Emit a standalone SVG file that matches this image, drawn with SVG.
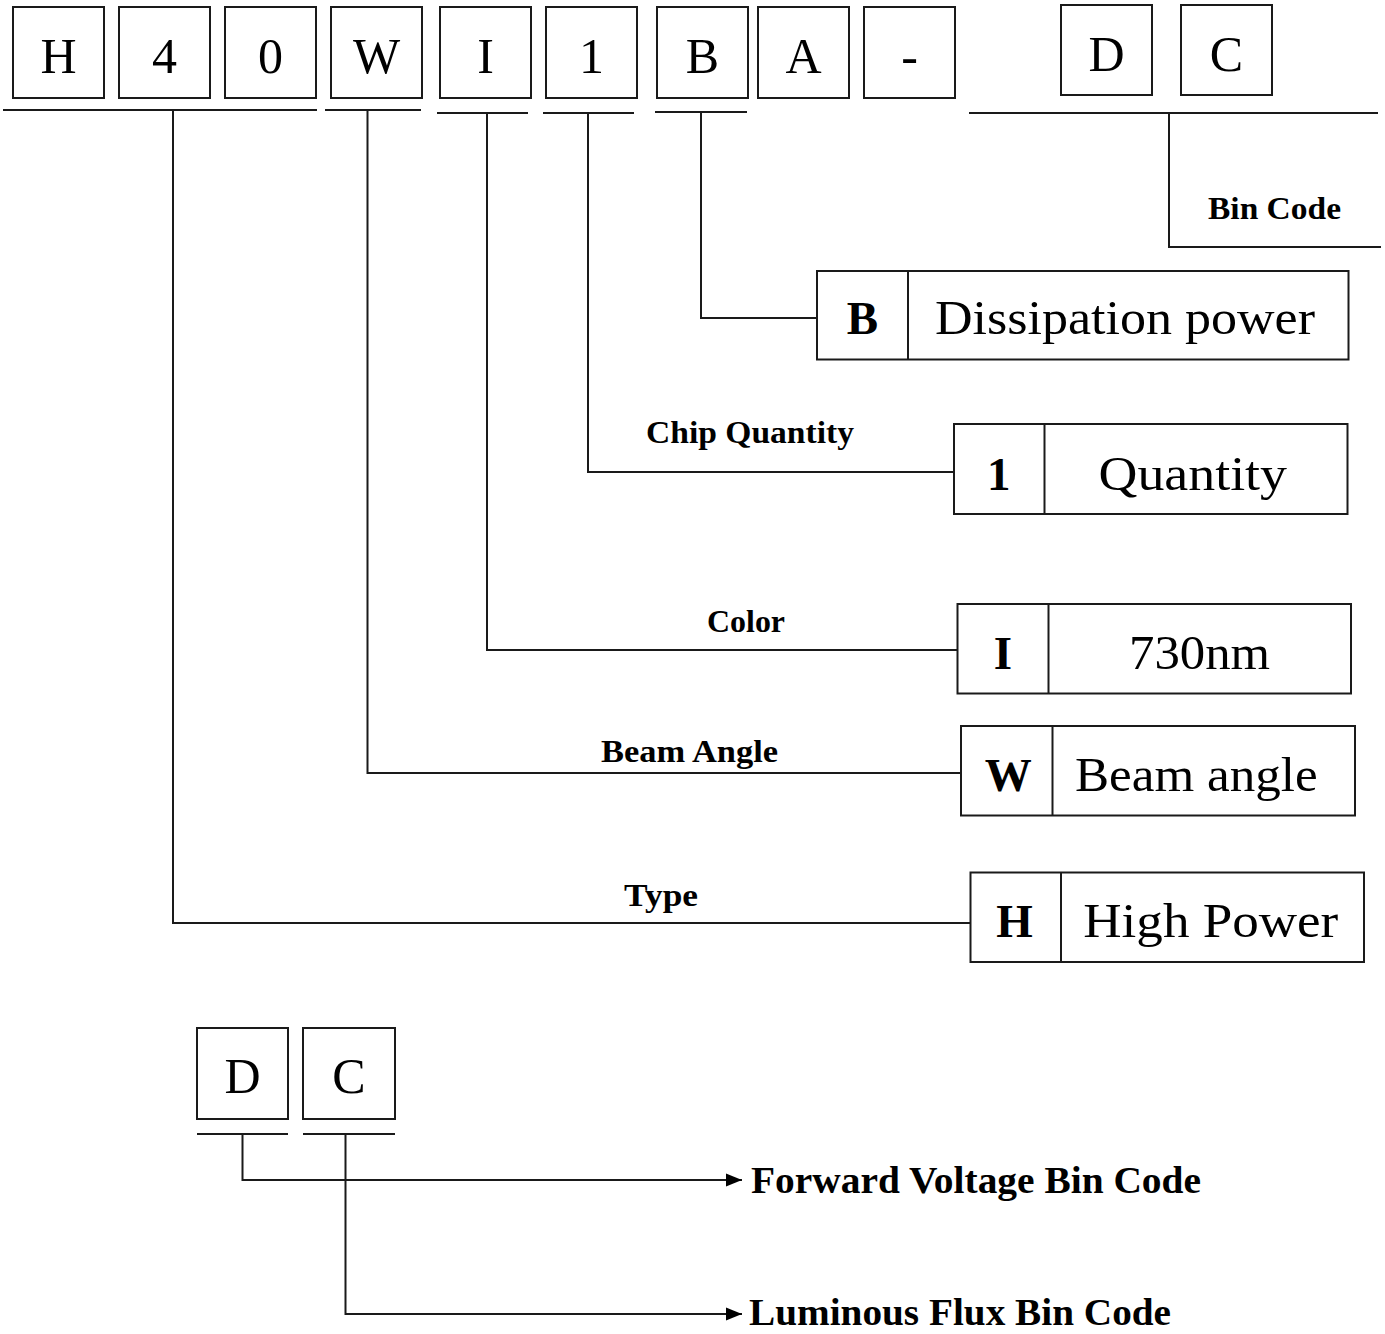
<svg xmlns="http://www.w3.org/2000/svg" width="1385" height="1334" viewBox="0 0 1385 1334">
<style>
.bx{fill:#fff;stroke:#1a1a1a;stroke-width:2}
.ln{fill:none;stroke:#1a1a1a;stroke-width:2}
.ch{font-family:"Liberation Serif",serif;font-size:50px;fill:#000;text-anchor:middle}
.big{font-family:"Liberation Serif",serif;font-size:48px;fill:#000}
.bl{font-family:"Liberation Serif",serif;font-size:47px;font-weight:bold;fill:#000;text-anchor:middle}
.lb{font-family:"Liberation Serif",serif;font-size:32px;font-weight:bold;fill:#000}
.lb2{font-family:"Liberation Serif",serif;font-size:38px;font-weight:bold;fill:#000}
</style>
<defs>
<marker id="arr" markerUnits="userSpaceOnUse" markerWidth="17" markerHeight="15" refX="16" refY="7.5" orient="auto">
<path d="M0,1 L16,7.5 L0,14 Z" fill="#000"/>
</marker>
</defs>
<rect width="1385" height="1334" fill="#fff"/>
<g id="code-row">
<g id="c-H"><rect class="bx" x="13" y="7" width="91" height="91"/><text class="ch" x="58.5" y="73">H</text></g>
<g id="c-4"><rect class="bx" x="119" y="7" width="91" height="91"/><text class="ch" x="164.5" y="73">4</text></g>
<g id="c-0"><rect class="bx" x="225" y="7" width="91" height="91"/><text class="ch" x="270.5" y="73">0</text></g>
<g id="c-W"><rect class="bx" x="331" y="7" width="91" height="91"/><text class="ch" x="376.5" y="73">W</text></g>
<g id="c-I"><rect class="bx" x="440" y="7" width="91" height="91"/><text class="ch" x="485.5" y="73">I</text></g>
<g id="c-1"><rect class="bx" x="546" y="7" width="91" height="91"/><text class="ch" x="591.5" y="73">1</text></g>
<g id="c-B"><rect class="bx" x="657" y="7" width="91" height="91"/><text class="ch" x="702.5" y="73">B</text></g>
<g id="c-A"><rect class="bx" x="758" y="7" width="91" height="91"/><text class="ch" x="803.5" y="73">A</text></g>
<g id="c-dash"><rect class="bx" x="864" y="7" width="91" height="91"/><text class="ch" x="909.5" y="73">-</text></g>
<g id="c-D"><rect class="bx" x="1061" y="5" width="91" height="90"/><text class="ch" x="1106.5" y="71">D</text></g>
<g id="c-C"><rect class="bx" x="1181" y="5" width="91" height="90"/><text class="ch" x="1226.5" y="71">C</text></g>
</g>
<g id="connectors">
<line class="ln" x1="3" y1="110" x2="317" y2="110"/>
<line class="ln" x1="325" y1="110" x2="421" y2="110"/>
<line class="ln" x1="437" y1="113" x2="528" y2="113"/>
<line class="ln" x1="543" y1="113" x2="634" y2="113"/>
<line class="ln" x1="655" y1="112" x2="747" y2="112"/>
<line class="ln" x1="969" y1="113" x2="1378" y2="113"/>
<path class="ln" d="M173,110 V923 H970"/>
<path class="ln" d="M367.5,110 V773 H961"/>
<path class="ln" d="M487,113 V650 H957"/>
<path class="ln" d="M588,113 V472 H954"/>
<path class="ln" d="M701,112 V318 H817"/>
<path class="ln" d="M1169,113 V247 H1381"/>
<line class="ln" x1="197" y1="1134" x2="288" y2="1134"/>
<line class="ln" x1="303" y1="1134" x2="395" y2="1134"/>
<path class="ln" d="M242.5,1134 V1180 H742" marker-end="url(#arr)"/>
<path class="ln" d="M345.5,1134 V1314 H742" marker-end="url(#arr)"/>
</g>
<g id="label-bincode"><text class="lb" x="1208" y="219" textLength="133" lengthAdjust="spacingAndGlyphs">Bin Code</text></g>
<g id="node-dissipation">
<rect class="bx" x="817" y="271" width="531.5" height="88.5"/>
<line class="ln" x1="908" y1="271" x2="908" y2="359.5"/>
<text class="bl" x="862.5" y="334">B</text>
<text class="big" x="935" y="334" textLength="380" lengthAdjust="spacingAndGlyphs">Dissipation power</text>
</g>
<g id="label-chip"><text class="lb" x="646" y="443" textLength="208" lengthAdjust="spacingAndGlyphs">Chip Quantity</text></g>
<g id="node-quantity">
<rect class="bx" x="954" y="424" width="393.5" height="90"/>
<line class="ln" x1="1044.5" y1="424" x2="1044.5" y2="514"/>
<text class="bl" x="998.7" y="490">1</text>
<text class="big" x="1098.5" y="490" textLength="188.5" lengthAdjust="spacingAndGlyphs">Quantity</text>
</g>
<g id="label-color"><text class="lb" x="707" y="632" textLength="78" lengthAdjust="spacingAndGlyphs">Color</text></g>
<g id="node-color">
<rect class="bx" x="957.5" y="604" width="393.5" height="89.5"/>
<line class="ln" x1="1048.5" y1="604" x2="1048.5" y2="693.5"/>
<text class="bl" x="1003" y="669">I</text>
<text class="big" x="1129" y="669" textLength="141" lengthAdjust="spacingAndGlyphs">730nm</text>
</g>
<g id="label-beam"><text class="lb" x="601" y="762" textLength="177" lengthAdjust="spacingAndGlyphs">Beam Angle</text></g>
<g id="node-beam">
<rect class="bx" x="961" y="726" width="394" height="89.5"/>
<line class="ln" x1="1052.5" y1="726" x2="1052.5" y2="815.5"/>
<text class="bl" x="1008.3" y="791">W</text>
<text class="big" x="1075" y="791" textLength="242.7" lengthAdjust="spacingAndGlyphs">Beam angle</text>
</g>
<g id="label-type"><text class="lb" x="624" y="906" textLength="74" lengthAdjust="spacingAndGlyphs">Type</text></g>
<g id="node-type">
<rect class="bx" x="970.5" y="872.5" width="393.5" height="89.5"/>
<line class="ln" x1="1061" y1="872.5" x2="1061" y2="962"/>
<text class="bl" x="1014.5" y="937">H</text>
<text class="big" x="1083.3" y="937" textLength="255" lengthAdjust="spacingAndGlyphs">High Power</text>
</g>
<g id="bin-row">
<g id="b-D"><rect class="bx" x="197" y="1028" width="91" height="91"/><text class="ch" x="242.5" y="1093">D</text></g>
<g id="b-C"><rect class="bx" x="303" y="1028" width="92" height="91"/><text class="ch" x="349" y="1093">C</text></g>
</g>
<g id="label-fv"><text class="lb2" x="751" y="1193" textLength="450" lengthAdjust="spacingAndGlyphs">Forward Voltage Bin Code</text></g>
<g id="label-lf"><text class="lb2" x="749" y="1325" textLength="422" lengthAdjust="spacingAndGlyphs">Luminous Flux Bin Code</text></g>
</svg>
